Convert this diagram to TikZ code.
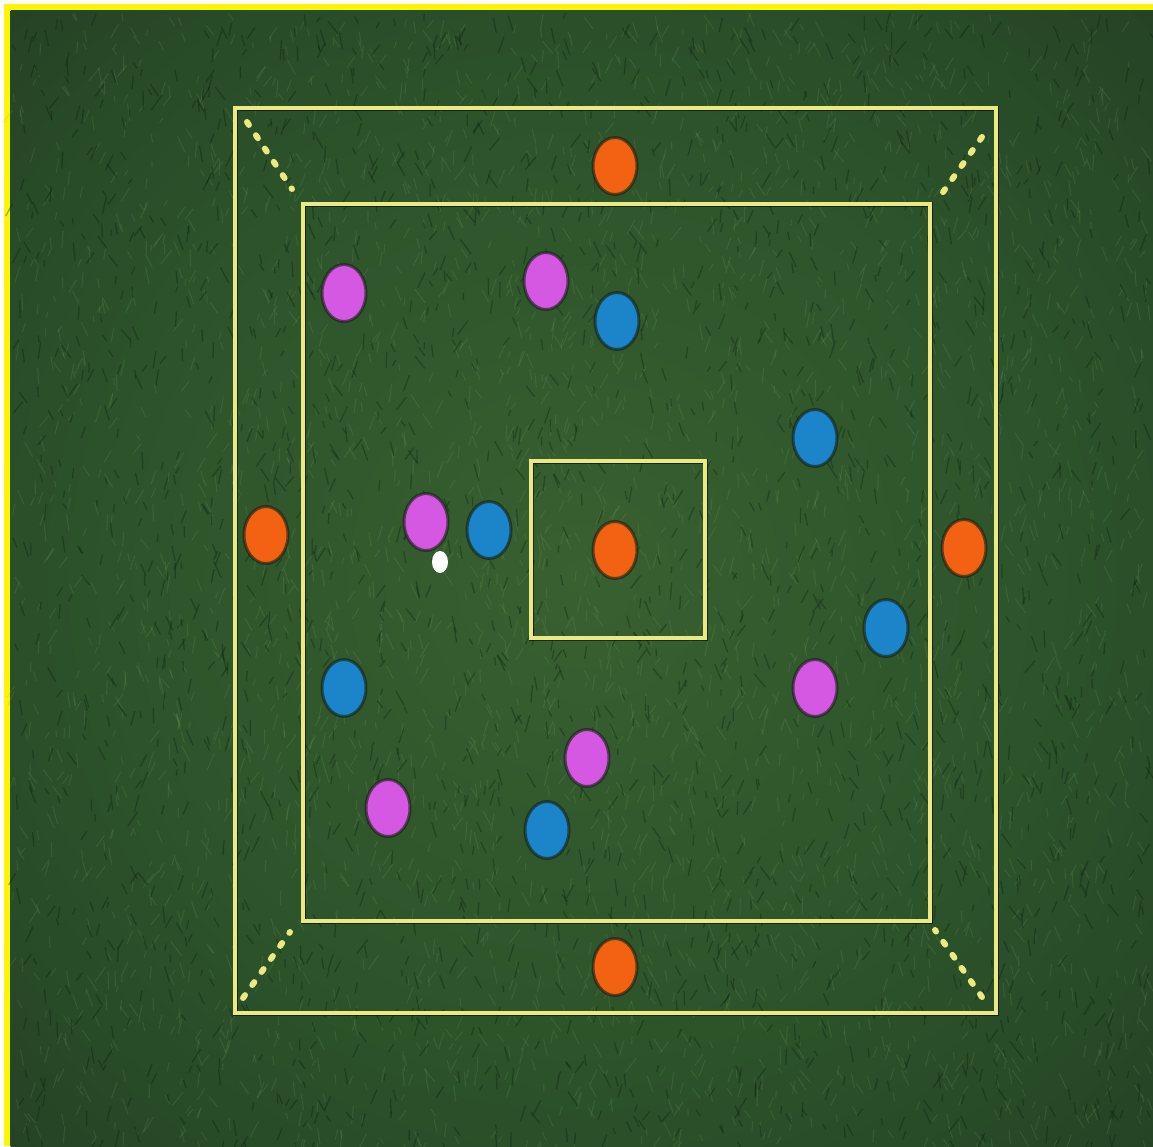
\documentclass[tikz,border=0pt]{standalone}
\usetikzlibrary{shapes.geometric}
\definecolor{grassin}{RGB}{56,96,48}
\definecolor{grassa}{RGB}{44,82,42}
\definecolor{grassmid}{RGB}{26,52,32}
\definecolor{grassout}{RGB}{12,28,22}
\definecolor{bladelight}{RGB}{120,165,100}
\definecolor{bladedark}{RGB}{10,28,16}
\definecolor{framey}{RGB}{255,245,0}
\definecolor{liney}{RGB}{236,232,130}
\definecolor{discorange}{RGB}{242,98,18}
\definecolor{discmagenta}{RGB}{212,88,226}
\definecolor{discblue}{RGB}{28,132,200}
\definecolor{halo}{RGB}{20,30,18}
\pgfdeclareradialshading{vign}{\pgfpoint{0bp}{0bp}}{color(0bp)=(grassin); color(22bp)=(grassa); color(50bp)=(grassmid); color(71bp)=(grassout)}
\tikzset{
  yline/.style={draw=liney, line width=4.5},
  yshadow/.style={draw=black, draw opacity=0.55, line width=5},
  dotline/.style={draw=liney, line width=6, line cap=round, dash pattern=on 3.5 off 12.5},
  disc/.style={ellipse, minimum width=44, minimum height=57, inner sep=0pt,
               draw=halo, draw opacity=0.6, line width=3},
  orangedisc/.style={disc, fill=discorange},
  magentadisc/.style={disc, fill=discmagenta},
  bluedisc/.style={disc, fill=discblue},
  ball/.style={ellipse, minimum width=16, minimum height=22, inner sep=0pt, fill=white},
  bladeL/.style={draw=bladelight, draw opacity=0.18, line width=1.1},
  bladeD/.style={draw=bladedark, draw opacity=0.35, line width=1.3},
}
\begin{document}
\begin{tikzpicture}[x=1pt,y=-1pt]
\useasboundingbox (0,0) rectangle (1153,1146);
\fill[white] (0,0) rectangle (1153,1146);
% outer yellow frame (top and left strips)
\fill[framey] (4,4) rectangle (1153,10);
\fill[framey] (4,4) rectangle (10,1146);
% grass
\shade[shading=vign] (10.5,10.5) rectangle (1153,1146);
\pgfmathsetseed{7}
\foreach \i in {1,...,3200}{
  \pgfmathsetmacro\xa{12+1138*rnd}
  \pgfmathsetmacro\ya{12+1132*rnd}
  \pgfmathsetmacro\an{50+80*rnd}
  \pgfmathsetmacro\ln{6+12*rnd}
  \draw[bladeL] (\xa,\ya) -- ++(\an:\ln);
}
\foreach \i in {1,...,2200}{
  \pgfmathsetmacro\xa{12+1138*rnd}
  \pgfmathsetmacro\ya{12+1132*rnd}
  \pgfmathsetmacro\an{50+80*rnd}
  \pgfmathsetmacro\ln{6+12*rnd}
  \draw[bladeD] (\xa,\ya) -- ++(\an:\ln);
}
% field corners
\coordinate (OTL) at (235,108);
\coordinate (OBR) at (996,1013);
\coordinate (ITL) at (303,204);
\coordinate (IBR) at (930,921);
\coordinate (CTL) at (531,461);
\coordinate (CBR) at (705,638);
% shadows of lines
\begin{scope}[shift={(3,3)}]
  \draw[yshadow] (OTL) rectangle (OBR);
  \draw[yshadow] (ITL) rectangle (IBR);
  \draw[yshadow] (CTL) rectangle (CBR);
\end{scope}
\draw[yline] (OTL) rectangle (OBR);
\draw[yline] (ITL) rectangle (IBR);
\draw[yline] (CTL) rectangle (CBR);
% dotted diagonals
\coordinate (d1a) at (247,122); \coordinate (d1b) at (292,189);
\coordinate (d2a) at (982,137); \coordinate (d2b) at (936,202);
\coordinate (d3a) at (243,998); \coordinate (d3b) at (290,932);
\coordinate (d4a) at (982,997); \coordinate (d4b) at (935,930);
\draw[dotline] (d1a) -- (d1b);
\draw[dotline] (d2a) -- (d2b);
\draw[dotline] (d3a) -- (d3b);
\draw[dotline] (d4a) -- (d4b);
% orange
\node[orangedisc] (o1) at (615,166) {};
\node[orangedisc] (o2) at (266,535) {};
\node[orangedisc] (o3) at (964,548) {};
\node[orangedisc] (o4) at (615,550) {};
\node[orangedisc] (o5) at (615,967) {};
% magenta
\node[magentadisc] (m1) at (344,293) {};
\node[magentadisc] (m2) at (546,281) {};
\node[magentadisc] (m3) at (426,522) {};
\node[magentadisc] (m4) at (815,688) {};
\node[magentadisc] (m5) at (587,758) {};
\node[magentadisc] (m6) at (388,808) {};
% blue
\node[bluedisc] (b1) at (617,321) {};
\node[bluedisc] (b2) at (815,438) {};
\node[bluedisc] (b3) at (489,530) {};
\node[bluedisc] (b4) at (886,628) {};
\node[bluedisc] (b5) at (344,688) {};
\node[bluedisc] (b6) at (547,830) {};
% ball
\node[ball] (ballnode) at (440,562) {};
\end{tikzpicture}
\end{document}
